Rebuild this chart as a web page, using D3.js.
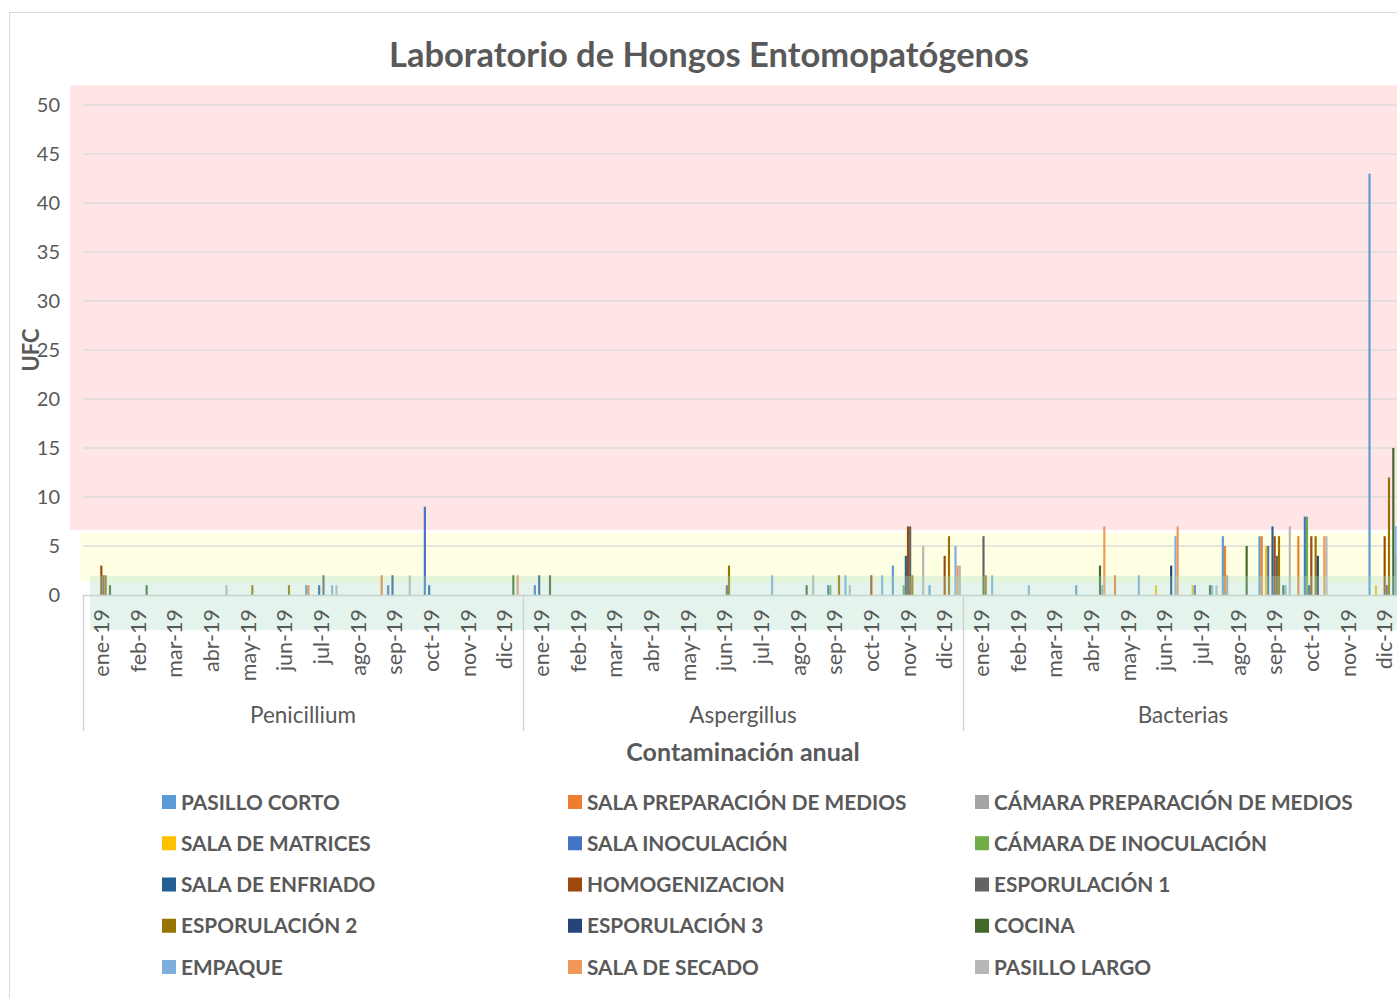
<!DOCTYPE html>
<html><head><meta charset="utf-8">
<script src="https://cdn.jsdelivr.net/npm/d3@7"></script>
<style>
html,body{margin:0;padding:0;background:#fff;}
svg{display:block;font-family:Lato,"Open Sans",sans-serif;}
</style></head>
<body><svg id="c" width="1397" height="998"></svg>
<script>
const title = "Laboratorio de Hongos Entomopatógenos";
const yTitle = "UFC";
const xTitle = "Contaminación anual";
const groups = ["Penicillium", "Aspergillus", "Bacterias"];
const months = ["ene-19","feb-19","mar-19","abr-19","may-19","jun-19","jul-19","ago-19","sep-19","oct-19","nov-19","dic-19"];
const yTicks = [0,5,10,15,20,25,30,35,40,45,50];
const seriesNames = ["PASILLO CORTO","SALA PREPARACIÓN DE MEDIOS","CÁMARA PREPARACIÓN DE MEDIOS","SALA DE MATRICES","SALA INOCULACIÓN","CÁMARA DE INOCULACIÓN","SALA DE ENFRIADO","HOMOGENIZACION","ESPORULACIÓN 1","ESPORULACIÓN 2","ESPORULACIÓN 3","COCINA","EMPAQUE","SALA DE SECADO","PASILLO LARGO"];
const seriesColors = ["#5B9BD5","#ED7D31","#A5A5A5","#FFC000","#4472C4","#70AD47","#255E91","#9E480E","#636363","#997300","#264478","#43682B","#7CAFDD","#F1975A","#B7B7B7"];

// each array: 12 Penicillium months, 12 Aspergillus months, 12 Bacterias months
const pasilloCorto     = [0,0,0,0,0,0,1,0,0,0,0,0,  0,0,0,0,0,0,0,0,0,0,3,1,  0,0,0,1,0,0,0,6,6,0,0,43];
const salaPrepMedios   = [0,0,0,0,0,0,1,0,2,0,0,0,  0,0,0,0,0,0,0,0,0,0,0,0,  0,0,0,0,2,0,0,5,6,6,0,0];
const camaraPrepMedios = [0,0,0,0,0,0,0,0,0,0,0,0,  0,0,0,0,0,0,0,0,0,0,0,0,  0,0,0,0,0,0,0,2,0,0,0,0];
const salaMatrices     = [0,0,0,0,0,0,0,0,0,0,0,0,  0,0,0,0,0,0,0,0,0,0,0,0,  0,0,0,0,0,1,1,0,5,0,0,1];
const salaInoculacion  = [0,0,0,0,0,0,0,0,1,9,0,0,  1,0,0,0,0,0,0,0,1,0,0,0,  0,0,0,0,0,0,1,0,5,8,0,0];
const camaraInoculacion= [0,0,0,0,0,0,0,0,0,0,0,0,  0,0,0,0,0,0,0,0,1,0,1,0,  0,0,0,0,0,0,0,0,0,8,0,0];
const salaEnfriado     = [0,0,0,0,0,0,1,0,2,1,0,0,  2,0,0,0,0,0,0,0,0,0,4,0,  0,0,0,0,0,0,0,0,7,1,0,0];
const homogenizacion   = [3,0,0,0,0,0,0,0,0,0,0,0,  0,0,0,0,0,0,0,0,0,2,7,4,  0,0,0,0,0,0,0,0,6,6,0,6];
const esporulacion1    = [2,0,0,0,0,0,2,0,0,0,0,0,  0,0,0,0,0,1,0,0,0,0,7,0,  6,0,0,0,0,0,0,0,4,0,0,1];
const esporulacion2    = [2,0,0,0,1,1,0,0,0,0,0,0,  0,0,0,0,0,3,0,0,2,0,2,6,  2,0,0,0,0,0,0,0,6,6,0,12];
const esporulacion3    = [0,0,0,0,0,0,0,0,0,0,0,0,  0,0,0,0,0,0,0,0,0,0,0,0,  0,0,0,0,0,3,0,0,0,4,0,0];
const cocina           = [1,1,0,0,0,0,0,0,0,0,0,2,  2,0,0,0,0,0,0,1,0,0,0,0,  0,0,0,3,0,0,1,5,1,0,0,15];
const empaque          = [0,0,0,0,0,0,1,0,0,0,0,0,  0,0,0,0,0,0,2,0,2,2,0,5,  2,1,0,1,2,6,1,0,1,0,0,7];
const salaSecado       = [0,0,0,0,0,0,0,0,0,0,0,2,  0,0,0,0,0,0,0,0,0,0,0,3,  0,0,0,7,0,7,0,0,0,6,0,4];
const pasilloLargo     = [0,0,0,1,0,0,1,0,2,0,0,0,  0,0,0,0,0,0,0,2,1,0,5,3,  0,0,0,0,0,0,1,0,7,6,0,0];

const seriesValues = [pasilloCorto,salaPrepMedios,camaraPrepMedios,salaMatrices,salaInoculacion,camaraInoculacion,salaEnfriado,homogenizacion,esporulacion1,esporulacion2,esporulacion3,cocina,empaque,salaSecado,pasilloLargo];

// background bands (in data units)
const bandTop    = {pink:52,   yellow:6.33, green:1.94};
const bandBottom = {pink:6.63, yellow:1.33, green:-3.57};

const svg = d3.select("#c");
const textCol = "#595959";
const L = 83, R = 1403, Y0 = 595, Y50 = 105;

const cats = d3.range(36);
const x0 = d3.scaleBand().domain(cats).range([L, R]).paddingInner(0).paddingOuter(0);
const step = x0.bandwidth();
const x1 = d3.scaleBand().domain(d3.range(seriesNames.length)).range([2.1, step - 2.1]).padding(0);
const y = d3.scaleLinear().domain([0, 50]).range([Y0, Y50]);

// chart border
svg.append("rect").attr("x", 9.5).attr("y", 12.5).attr("width", 1420).attr("height", 1000)
  .attr("fill", "none").attr("stroke", "#d9d9d9");

// background bands behind
svg.append("rect").attr("x", 70).attr("y", y(bandTop.pink)).attr("width", 1400)
  .attr("height", y(bandBottom.pink) - y(bandTop.pink)).attr("fill", "#FFE5E5");
svg.append("rect").attr("x", 80).attr("y", y(bandTop.yellow)).attr("width", 1400)
  .attr("height", y(bandBottom.yellow) - y(bandTop.yellow)).attr("fill", "#FFFFE3");

// gridlines
svg.append("g").selectAll("line").data(yTicks.filter(d => d > 0)).join("line")
  .attr("x1", L).attr("x2", R).attr("y1", d => y(d)).attr("y2", d => y(d))
  .attr("stroke", "#d9d9d9").attr("stroke-opacity", 0.9).attr("stroke-width", 1.3);

// bars
const barG = svg.append("g");
seriesValues.forEach((vals, si) => {
  barG.append("g").selectAll("rect").data(vals.map((v, i) => ({v, i}))).join("rect")
    .filter(d => d.v > 0)
    .attr("x", d => x0(d.i) + x1(si))
    .attr("width", x1.bandwidth())
    .attr("y", d => y(d.v))
    .attr("height", d => y(0) - y(d.v))
    .attr("fill", seriesColors[si]);
});

// x axis line
svg.append("line").attr("x1", L).attr("x2", R).attr("y1", Y0 + 0.5).attr("y2", Y0 + 0.5)
  .attr("stroke", "#d0d0d0").attr("stroke-width", 1.3);

// green band overlay (on top)
svg.append("rect").attr("x", 90).attr("y", y(bandTop.green)).attr("width", 1400)
  .attr("height", y(bandBottom.green) - y(bandTop.green)).attr("fill", "rgb(170,222,195)").attr("fill-opacity", 0.32);

// group separators
const groupEdges = [0, 12, 24, 36];
svg.append("g").selectAll("line").data(groupEdges).join("line")
  .attr("x1", d => d < 36 ? x0(d) + 0.5 : R).attr("x2", d => d < 36 ? x0(d) + 0.5 : R)
  .attr("y1", Y0).attr("y2", 731).attr("stroke", "#d0d0d0").attr("stroke-width", 1.3);

// y tick labels
svg.append("g").selectAll("text").data(yTicks).join("text")
  .attr("x", 60).attr("y", d => y(d) + 7).attr("text-anchor", "end")
  .attr("font-size", 20).attr("fill", textCol).text(d => d);

// month labels
svg.append("g").selectAll("text").data(cats).join("text")
  .attr("transform", d => `translate(${x0(d) + step / 2 + 7.5},${Y0 + 14}) rotate(-90)`)
  .attr("text-anchor", "end").attr("font-size", 21.5).attr("fill", textCol)
  .text(d => months[d % 12]);

// group labels
svg.append("g").selectAll("text").data(groups).join("text")
  .attr("x", (d, i) => (x0(i * 12) + (i < 2 ? x0((i + 1) * 12) : R)) / 2)
  .attr("y", 723).attr("text-anchor", "middle").attr("font-size", 22.5).attr("fill", textCol)
  .text(d => d);

// titles
svg.append("text").attr("x", 709).attr("y", 67).attr("text-anchor", "middle")
  .attr("font-size", 34.5).attr("font-weight", "bold").attr("fill", textCol).text(title);
svg.append("text").attr("x", 743).attr("y", 761).attr("text-anchor", "middle")
  .attr("font-size", 25).attr("font-weight", "bold").attr("fill", textCol).text(xTitle);
svg.append("text").attr("transform", "translate(39,350) rotate(-90)").attr("text-anchor", "middle")
  .attr("font-size", 22).attr("font-weight", "bold").attr("fill", textCol).text(yTitle);

// legend
const colX = [162, 568, 975];
const legend = svg.append("g").selectAll("g").data(seriesNames).join("g")
  .attr("transform", (d, i) => `translate(${colX[i % 3]},${802 + Math.floor(i / 3) * 41.25})`);
legend.append("rect").attr("x", 0).attr("y", -7).attr("width", 14).attr("height", 14)
  .attr("fill", (d, i) => seriesColors[i]);
legend.append("text").attr("x", 19).attr("y", 7.5).attr("font-size", 20.8).attr("font-weight", "bold")
  .attr("fill", textCol).text(d => d);
</script></body></html>
